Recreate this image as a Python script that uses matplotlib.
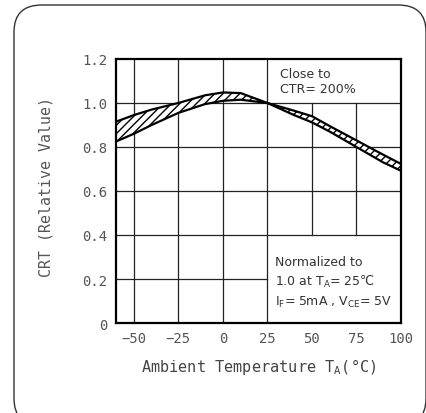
import matplotlib.pyplot as plt
from matplotlib.patches import FancyBboxPatch

# temperature (C) and relative CTR band edges
temp = [-60, -50, -40, -25, -10, 0, 10, 25, 40, 50, 60, 75, 90, 100]
upper = [0.915, 0.945, 0.97, 1.0, 1.035, 1.048, 1.045, 1.0, 0.965, 0.94, 0.895, 0.83, 0.765, 0.723]
lower = [0.825, 0.86, 0.9, 0.955, 0.995, 1.01, 1.015, 1.0, 0.945, 0.912, 0.87, 0.80, 0.73, 0.692]

x_ticks = [-50, -25, 0, 25, 50, 75, 100]
y_ticks = [0, 0.2, 0.4, 0.6, 0.8, 1.0, 1.2]
y_tick_labels = ["0", "0.2", "0.4", "0.6", "0.8", "1.0", "1.2"]

mono = ["DejaVu Sans Mono", "DejaVu Sans"]

fig = plt.figure(figsize=(4.27, 4.14), dpi=100)

# rounded frame round the whole figure
frame = FancyBboxPatch((14 / 427, -0.03), 412 / 427, 1.0 - 6 / 414 + 0.03,
                       boxstyle="round,pad=0,rounding_size=0.065",
                       transform=fig.transFigure, fill=False,
                       edgecolor="#333333", linewidth=1.0, clip_on=False)
fig.patches.append(frame)

ax = fig.add_axes([116 / 427, 1 - 324 / 414, 285 / 427, 264 / 414])
ax.set_xlim(-60, 100)
ax.set_ylim(0, 1.2)

grid_kw = dict(color="#222222", linewidth=0.9, zorder=1)
for x in [-50, -25, 0, 25]:
    ax.plot([x, x], [0, 1.2], **grid_kw)
for x in [50, 75]:
    ax.plot([x, x], [0.4, 1.0], **grid_kw)
for y in [0.4, 0.6, 0.8, 1.0]:
    ax.plot([-60, 100], [y, y], **grid_kw)
ax.plot([-60, 25], [0.2, 0.2], **grid_kw)

ax.fill_between(temp, lower, upper, facecolor="white", edgecolor="black",
                hatch="////", linewidth=0, zorder=2)
ax.plot(temp, upper, color="black", linewidth=1.6, zorder=3)
ax.plot(temp, lower, color="black", linewidth=1.6, zorder=3)

for s in ax.spines.values():
    s.set_linewidth(1.6)
    s.set_color("black")

ax.set_xticks(x_ticks)
ax.set_yticks(y_ticks)
ax.set_yticklabels(y_tick_labels)
ax.tick_params(length=0, labelsize=10, colors="#555555", pad=6)
for lab in ax.get_xticklabels() + ax.get_yticklabels():
    lab.set_family(mono)

ax.text(32, 1.165, "Close to\nCTR= 200%", fontsize=9, color="#333333",
        va="top", ha="left", linespacing=1.25)
ax.text(29, 0.31,
        "Normalized to\n1.0 at T$_\\mathregular{A}$= 25\u2103\n"
        "I$_\\mathregular{F}$= 5mA , V$_\\mathregular{CE}$= 5V",
        fontsize=9, color="#333333", va="top", ha="left", linespacing=1.45)

ax.set_xlabel("Ambient Temperature T$_\\mathregular{A}$(\u00b0C)", fontsize=11,
              family=mono, color="#444444", labelpad=8)
ax.set_ylabel("CRT (Relative Value)", fontsize=10.7, family=mono,
              color="#555555")
ax.yaxis.set_label_coords(-0.22, 0.52)

fig.savefig("out.png", dpi=100)
